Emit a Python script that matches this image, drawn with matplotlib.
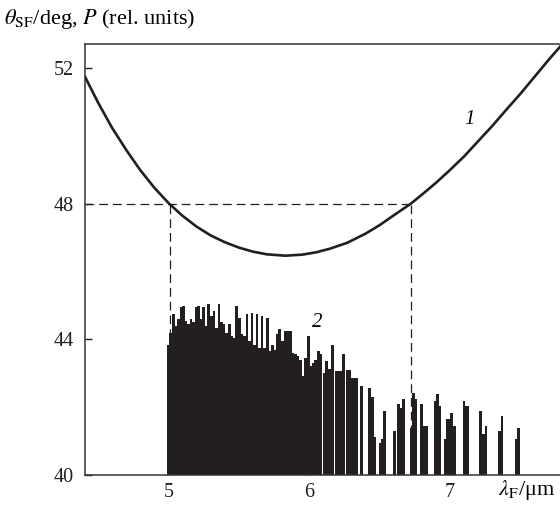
import matplotlib
matplotlib.use("Agg")
import matplotlib.pyplot as plt

plt.rcParams['font.family'] = ['Liberation Serif', 'DejaVu Serif']
plt.rcParams['mathtext.fontset'] = 'stix'

# curve 1: theta_SF vs lambda_F
curve_x = [4.41, 4.50, 4.60, 4.70, 4.80, 4.90, 5.00, 5.10, 5.20, 5.30, 5.40,
           5.50, 5.60, 5.70, 5.83, 5.95, 6.05, 6.15, 6.27, 6.40, 6.50, 6.60,
           6.72, 6.80, 6.90, 7.00, 7.10, 7.20, 7.30, 7.40, 7.50, 7.60, 7.70, 7.78]
curve_y = [51.74, 51.00, 50.25, 49.60, 49.00, 48.48, 48.03, 47.65, 47.33, 47.07, 46.87,
           46.71, 46.59, 46.51, 46.47, 46.50, 46.57, 46.68, 46.85, 47.12, 47.37, 47.66,
           48.00, 48.27, 48.62, 49.00, 49.40, 49.85, 50.30, 50.78, 51.25, 51.75, 52.25, 52.63]

# spectrum 2: line positions and heights
bar_x = [5.000, 5.018, 5.036, 5.054, 5.072, 5.090, 5.108, 5.126, 5.144, 5.162,
         5.180, 5.198, 5.216, 5.234, 5.252, 5.270, 5.288, 5.306, 5.324, 5.342,
         5.360, 5.378, 5.396, 5.414, 5.432, 5.450, 5.468, 5.486, 5.504, 5.522,
         5.540, 5.558, 5.576, 5.594, 5.612, 5.630, 5.648, 5.666, 5.684, 5.702,
         5.720, 5.738, 5.756, 5.774, 5.792, 5.810, 5.828, 5.846,
         5.865, 5.885, 5.903, 5.921, 5.939, 5.957, 5.975, 5.993, 6.012, 6.030,
         6.047, 6.065, 6.082, 6.105, 6.125, 6.142, 6.163, 6.190, 6.205, 6.222,
         6.245, 6.270, 6.287, 6.305, 6.322, 6.340, 6.370, 6.430, 6.447, 6.462,
         6.505, 6.520, 6.535, 6.604, 6.634, 6.652, 6.672, 6.722, 6.743, 6.758,
         6.795, 6.818, 6.834, 6.896, 6.911, 6.924, 6.966, 6.980, 6.995, 7.010,
         7.030, 7.098, 7.113, 7.125, 7.216, 7.232, 7.246, 7.254, 7.352, 7.368,
         7.470, 7.488]
bar_h = [43.85, 44.20, 44.75, 44.40, 44.60, 44.95, 45.00, 44.55, 44.45, 44.60,
         44.50, 44.95, 45.00, 44.60, 44.95, 44.40, 45.05, 44.70, 44.85, 44.35,
         45.05, 44.50, 44.45, 44.20, 44.45, 44.10, 44.05, 44.98, 44.64, 44.15,
         44.10, 44.74, 43.95, 44.78, 43.85, 44.74, 43.75, 44.70, 43.75, 44.64,
         43.65, 43.85, 43.70, 44.15, 44.30, 43.95, 44.25, 44.24,
         44.24, 43.61, 43.56, 43.51, 43.40, 42.92, 43.46, 44.10, 43.22, 43.30,
         43.40, 43.65, 43.56, 43.02, 43.36, 43.12, 43.85, 43.07, 43.07, 43.07,
         43.56, 43.09, 43.09, 42.87, 42.87, 42.87, 42.63, 42.58, 42.29, 41.11,
         40.96, 41.06, 41.89, 41.30, 42.09, 41.99, 42.24, 41.40, 42.43, 42.24,
         42.09, 41.45, 41.45, 42.19, 42.38, 42.04, 41.06, 41.65, 41.65, 41.84,
         41.45, 42.19, 42.04, 42.04, 41.89, 41.20, 41.20, 41.45, 41.30, 41.74,
         41.06, 41.40]

level = 48
cross_x = [5.01, 6.72]

fig = plt.figure(figsize=(5.6, 5.07), dpi=100)
ax = fig.add_axes([0.152, 0.063, 0.848, 0.850])

ink = '#231f20'
ax.bar(bar_x, [h - 40 for h in bar_h], bottom=40, width=0.0195,
       color=ink, linewidth=0, zorder=2)
ax.plot(curve_x, curve_y, color=ink, lw=1.9, zorder=3)

ax.plot([4.41, cross_x[1]], [level, level], color=ink, lw=0.9, dashes=(7, 4), zorder=1)
for cx in cross_x:
    ax.plot([cx, cx], [40, level], color=ink, lw=0.9, dashes=(7, 4), zorder=1)

ax.text(7.14, 50.5, '1', fontsize=15, style='italic', ha='center', va='center')
ax.text(6.06, 44.5, '2', fontsize=15, style='italic', ha='center', va='center')

ax.set_xlim(4.41, 7.78)
ax.set_ylim(40, 52.71)
ax.set_xticks([5, 6, 7])
ax.set_yticks([40, 44, 48, 52])
ax.tick_params(direction='in', length=5, width=1, labelsize=14.5, colors=ink)
ax.tick_params(axis='y', pad=8)
ax.tick_params(axis='x', pad=6)
for s in ['left', 'top', 'bottom']:
    ax.spines[s].set_linewidth(1.1)
    ax.spines[s].set_color('#333333')
ax.spines['right'].set_visible(False)

ax.text(7.545, 39.56, r'$\lambda_{\mathrm{F}}$/μm', fontsize=16, ha='center',
        va='center', clip_on=False)
fig.text(0.008, 0.963, r'$\theta_{\mathrm{SF}}$/deg, $P$ (rel. units)',
         fontsize=16, ha='left', va='center')

fig.savefig('out.png', dpi=100)
